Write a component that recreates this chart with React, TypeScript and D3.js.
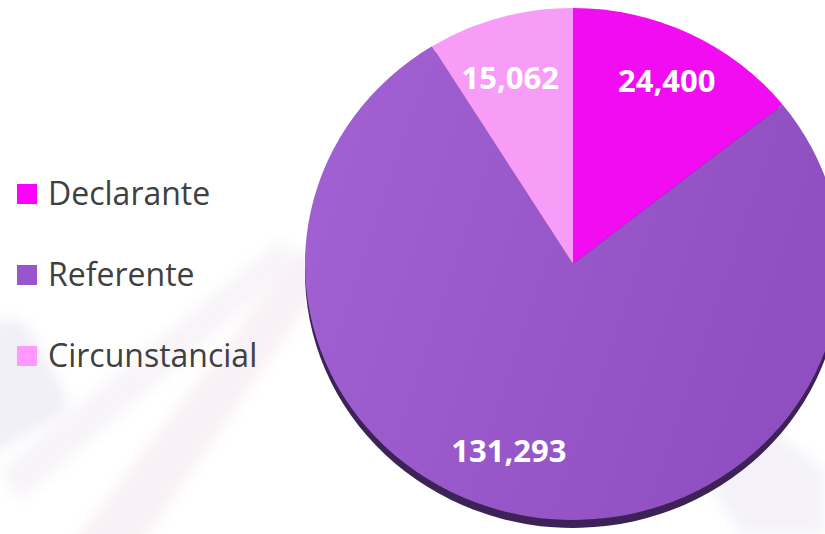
import React from "react";
import * as d3 from "d3";

const categories = ["Declarante", "Referente", "Circunstancial"];
const values = [24400, 131293, 15062];
const sliceColors = ["#f20cf2", "url(#refGrad)", "#f79cf7"];
const legendColors = ["#ff00ff", "#9955cc", "#ff99ff"];

const W = 825;
const H = 534;

const App = () => {
  const cx = 573;
  const cy = 264;
  const radius = 268;
  const squash = 0.955;

  const pie = d3.pie<number>().sort(null).value((d) => d);
  const arcs = pie(values);

  const arc = d3.arc<d3.PieArcDatum<number>>().innerRadius(0).outerRadius(radius);
  const labelArc = d3.arc<d3.PieArcDatum<number>>().innerRadius(200).outerRadius(200);

  const fmt = d3.format(",");

  // small hand nudges so labels sit where the original put them
  const nudgeX = [7, -30, -8];
  const nudgeY = [-11, -1, -2];

  // legend layout
  const legendY = d3.scalePoint<string>().domain(categories).range([194, 356]);

  return (
    <svg
      width={W}
      height={H}
      style={{ position: "absolute", left: 0, top: 0, background: "#fff" }}
    >
      <defs>
        <linearGradient id="refGrad" x1="0" y1="0" x2="1" y2="0.3">
          <stop offset="0%" stopColor="#a262d3" />
          <stop offset="100%" stopColor="#904fc1" />
        </linearGradient>
        <filter id="blur" x="-20%" y="-20%" width="140%" height="140%">
          <feGaussianBlur stdDeviation="7" />
        </filter>
      </defs>

      {/* faint watermark shapes in background */}
      <g filter="url(#blur)" opacity={0.4}>
        <rect x={-60} y={330} width={110} height={110} rx={20} fill="#dcd6ea"
          transform="rotate(-30 0 380)" />
        <path d="M60,560 L300,250 L335,265 L130,560 Z" fill="#f0dce6" />
        <path d="M0,470 L280,240 L300,260 L20,500 Z" fill="#ece4ee" />
        <path d="M700,470 L760,420 L825,470 L825,534 L740,534 Z" fill="#e4e0ee" />
      </g>

      {/* pie rim */}
      <g transform={`translate(${cx},${cy + 8}) scale(1,${squash})`}>
        {arcs.map((a, i) => (
          <path key={"s" + i} d={arc(a) || ""} fill="#3d2258" />
        ))}
      </g>
      {/* pie face */}
      <g transform={`translate(${cx},${cy}) scale(1,${squash})`}>
        {arcs.map((a, i) => (
          <path key={i} d={arc(a) || ""} fill={sliceColors[i]} />
        ))}
      </g>

      {/* data labels */}
      {arcs.map((a, i) => {
        const [lx, ly] = labelArc.centroid(a);
        return (
          <text
            key={"l" + i}
            x={cx + lx + nudgeX[i]}
            y={cy + ly * squash + nudgeY[i]}
            dy="0.36em"
            textAnchor="middle"
            fill="#fff"
            fontFamily="'Open Sans', sans-serif"
            fontWeight={700}
            fontSize={31}
          >
            {fmt(values[i])}
          </text>
        );
      })}

      {/* legend */}
      {categories.map((c, i) => (
        <g key={c} transform={`translate(17,${legendY(c)})`}>
          <rect x={0} y={-10} width={20} height={20} fill={legendColors[i]} />
          <text
            x={31}
            y={11}
            fill="#404040"
            fontFamily="'Open Sans', sans-serif"
            fontSize={32}
          >
            {c}
          </text>
        </g>
      ))}
    </svg>
  );
};

export default App;
